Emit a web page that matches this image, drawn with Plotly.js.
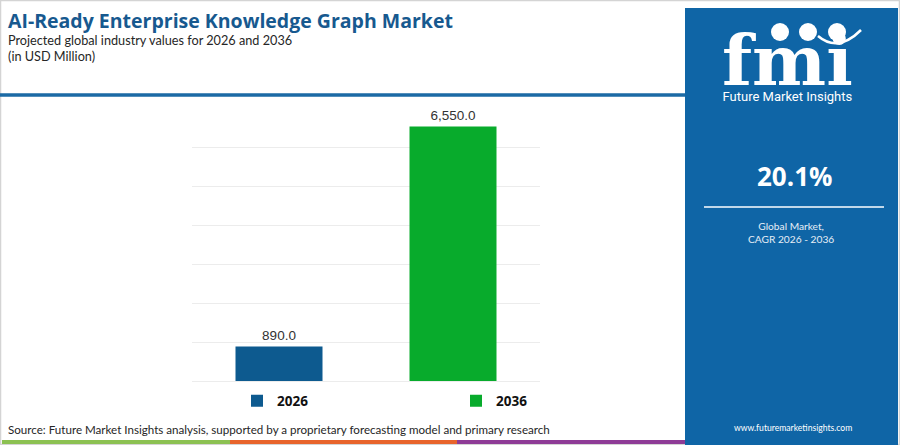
<!DOCTYPE html>
<html>
<head>
<meta charset="utf-8">
<script src="https://cdn.plot.ly/plotly-3.0.1.min.js"></script>
<style>
  html, body { margin: 0; padding: 0; background: #ffffff; }
  #chart { width: 900px; height: 445px; }
</style>
</head>
<body>
<div id="chart"></div>
<script>
// ---- Data ----
const categories = ['2026', '2036'];
const values = [890.0, 6550.0];
const barColors = ['#0d5a8f', '#08ab2c'];
const gridTicks = [0, 1000, 2000, 3000, 4000, 5000, 6000, 7000];

const titleText = 'AI-Ready Enterprise Knowledge Graph Market';
const subtitleText = 'Projected global industry values for 2026 and 2036';
const unitText = '(in USD Million)';
const sourceText = 'Source: Future Market Insights analysis, supported by a proprietary forecasting model and primary research';
const cagrText = '20.1%';
const cagrLabel1 = 'Global Market,';
const cagrLabel2 = 'CAGR 2026 - 2036';
const logoText = 'fmi';
const brandText = 'Future Market Insights';
const urlText = 'www.futuremarketinsights.com';

// ---- Helpers (pixel -> paper) ----
const W = 900, H = 445;
const px = v => v / W;
const py = v => 1 - v / H;

const traces = categories.map((c, i) => ({
  type: 'bar',
  x: [c],
  y: [values[i]],
  name: c,
  width: 0.5,
  marker: { color: barColors[i], line: { width: 0 } },
  texttemplate: '%{y:,.1f}',
  textposition: 'outside',
  textfont: { family: 'Liberation Sans, Arial, sans-serif', size: 13.5, color: '#333333' },
  cliponaxis: false,
  hoverinfo: 'skip'
}));

function ann(text, x, y, size, color, extra) {
  return Object.assign({
    text: text, x: px(x), y: py(y), xref: 'paper', yref: 'paper',
    xanchor: 'left', yanchor: 'top', showarrow: false, align: 'left',
    font: { family: 'Lato, sans-serif', size: size, color: color }
  }, extra || {});
}

const headerHtml =
  '<span style="font-family:\'Open Sans\';font-size:19.5px;font-weight:bold;color:#17598f">' + titleText + '</span><br>' +
  '<span style="font-size:12.7px">' + subtitleText + '</span><br>' +
  '<span style="font-size:12.7px">' + unitText + '</span>';

const logoHtml =
  '<span style="font-family:\'DejaVu Serif\';font-size:70px;font-weight:bold">' + logoText + '</span><br>' +
  '<span style="font-family:Roboto;font-size:13px">' + brandText + '</span>';

const annotations = [
  ann(headerHtml, 7, 6, 12.8, '#262626', { borderpad: 0 }),
  ann(sourceText, 6, 429, 11.6, '#262626', { yanchor: 'middle' }),
  ann(logoHtml, 787, 18, 12.5, '#ffffff', { xanchor: 'center', align: 'center', borderpad: 0 }),
  ann('<b>' + cagrText + '</b>', 794, 176, 26, '#ffffff',
      { xanchor: 'center', yanchor: 'middle', font: { family: 'Open Sans, sans-serif', size: 26, color: '#ffffff' } }),
  ann(cagrLabel1 + '<br>' + cagrLabel2, 791, 232, 10.2, '#e6eef6',
      { xanchor: 'center', yanchor: 'middle', align: 'center' }),
  ann(urlText, 793, 428, 8.6, '#ffffff', { xanchor: 'center', yanchor: 'middle' })
];

const shapes = [
  // outer frame
  { type: 'rect', xref: 'paper', yref: 'paper', x0: px(0.5), x1: px(899.5), y0: py(444.5), y1: py(0.5),
    line: { color: '#d4d4d4', width: 1.5 }, fillcolor: 'rgba(0,0,0,0)', layer: 'below' },
  // header rule
  { type: 'line', xref: 'paper', yref: 'paper', x0: 0, x1: px(685), y0: py(95), y1: py(95),
    line: { color: '#1b6aa5', width: 3.5 } },
  // right panel
  { type: 'rect', xref: 'paper', yref: 'paper', x0: px(685), x1: px(898), y0: 0, y1: py(8),
    line: { width: 0 }, fillcolor: '#0f65a6', layer: 'below' },
  // panel rule
  { type: 'line', xref: 'paper', yref: 'paper', x0: px(704), x1: px(884), y0: py(207), y1: py(207),
    line: { color: 'rgba(225,236,246,0.85)', width: 2 } },
  // logo globes
  { type: 'circle', xref: 'paper', yref: 'paper', x0: px(771), x1: px(789), y0: py(41), y1: py(23),
    line: { width: 0 }, fillcolor: '#ffffff', layer: 'above' },
  { type: 'circle', xref: 'paper', yref: 'paper', x0: px(799), x1: px(817), y0: py(41), y1: py(23),
    line: { width: 0 }, fillcolor: '#ffffff', layer: 'above' },
  { type: 'circle', xref: 'paper', yref: 'paper', x0: px(828), x1: px(846), y0: py(41), y1: py(23),
    line: { width: 0 }, fillcolor: '#ffffff', layer: 'above' },
  // logo smile arc
  { type: 'path', xref: 'paper', yref: 'paper',
    path: 'M ' + px(818) + ',' + py(36) + ' Q ' + px(838) + ',' + py(53) + ' ' + px(861) + ',' + py(30),
    line: { color: '#ffffff', width: 2.5 }, fillcolor: 'rgba(0,0,0,0)' },
  // bottom stripes
  { type: 'rect', xref: 'paper', yref: 'paper', x0: px(2), x1: px(230), y0: py(444), y1: py(440),
    line: { width: 0 }, fillcolor: '#8cc152' },
  { type: 'rect', xref: 'paper', yref: 'paper', x0: px(230), x1: px(457), y0: py(444), y1: py(440),
    line: { width: 0 }, fillcolor: '#e8642c' },
  { type: 'rect', xref: 'paper', yref: 'paper', x0: px(457), x1: px(685), y0: py(444), y1: py(440),
    line: { width: 0 }, fillcolor: '#8e3b96' }
];

const layout = {
  width: W, height: H,
  margin: { l: 0, r: 0, t: 0, b: 0, pad: 0 },
  paper_bgcolor: '#ffffff',
  plot_bgcolor: 'rgba(0,0,0,0)',
  barmode: 'overlay',
  showlegend: true,
  legend: {
    orientation: 'h', x: px(237), xanchor: 'left', y: py(401), yanchor: 'middle',
    entrywidth: 174, entrywidthmode: 'pixels',
    font: { family: 'Open Sans, sans-serif', size: 13.5, color: '#111111', weight: 'bold' },
    bgcolor: 'rgba(0,0,0,0)', borderwidth: 0, itemclick: false, itemdoubleclick: false
  },
  xaxis: {
    domain: [px(192), px(540)], type: 'category', range: [-0.5, 1.5],
    showticklabels: false, showgrid: false, zeroline: false, showline: false, ticks: '', fixedrange: true
  },
  yaxis: {
    domain: [py(381), py(109)], range: [0, 7000], tickvals: gridTicks,
    showticklabels: false, showgrid: true, gridcolor: '#ececec', gridwidth: 1,
    zeroline: true, zerolinecolor: '#ececec', zerolinewidth: 1, showline: false, ticks: '', fixedrange: true
  },
  shapes: shapes,
  annotations: annotations
};

Plotly.newPlot('chart', traces, layout, { displayModeBar: false, staticPlot: true, responsive: false });
</script>
</body>
</html>
